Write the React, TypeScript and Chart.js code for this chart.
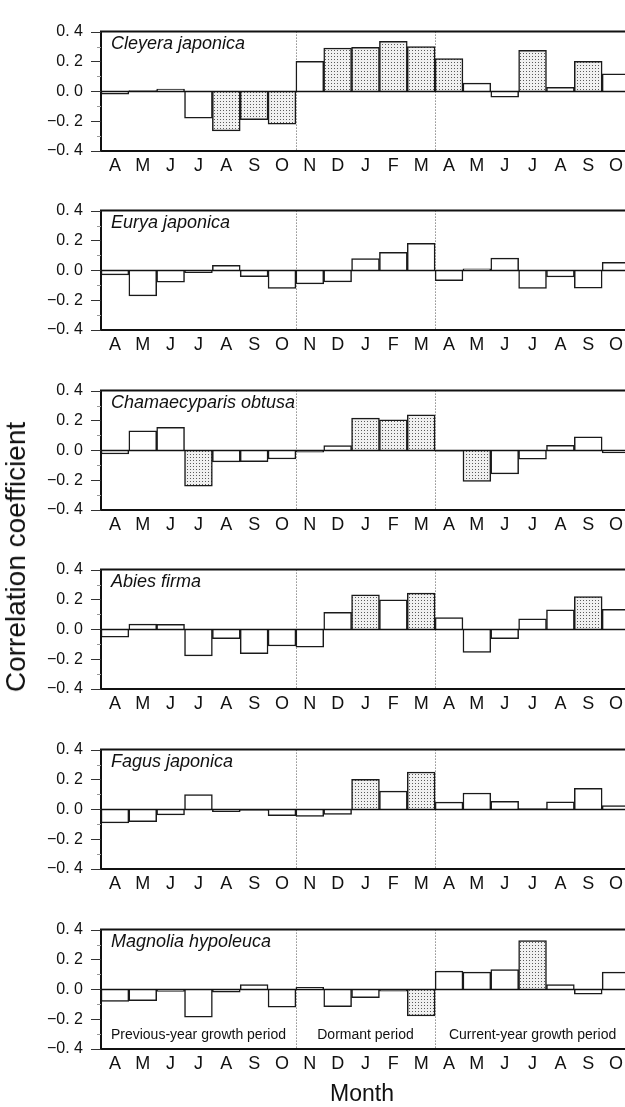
import React, { useEffect, useRef } from "react";
import { Chart, registerables } from "chart.js";

Chart.register(...registerables);

// ---------- data ----------
const months = ["A", "M", "J", "J", "A", "S", "O", "N", "D", "J", "F", "M", "A", "M", "J", "J", "A", "S", "O"];
const speciesNames = ["Cleyera japonica", "Eurya japonica", "Chamaecyparis obtusa", "Abies firma", "Fagus japonica", "Magnolia hypoleuca"];

const cleyeraValues = [-0.02, 0.005, 0.015, -0.18, -0.265, -0.19, -0.22, 0.2, 0.29, 0.295, 0.335, 0.3, 0.22, 0.055, -0.04, 0.275, 0.027, 0.2, 0.117];
const cleyeraSig = [4, 5, 6, 8, 9, 10, 11, 12, 15, 17];

const euryaValues = [-0.031, -0.171, -0.08, -0.016, 0.033, -0.043, -0.122, -0.091, -0.078, 0.078, 0.12, 0.18, -0.07, 0.01, 0.082, -0.122, -0.045, -0.12, 0.054];
const euryaSig: number[] = [];

const chamaecyparisValues = [-0.025, 0.13, 0.154, -0.24, -0.078, -0.076, -0.058, -0.012, 0.031, 0.216, 0.204, 0.237, -0.006, -0.208, -0.158, -0.06, 0.033, 0.091, -0.018];
const chamaecyparisSig = [3, 9, 10, 11, 13];

const abiesValues = [-0.052, 0.035, 0.033, -0.178, -0.062, -0.163, -0.112, -0.12, 0.114, 0.231, 0.198, 0.242, 0.078, -0.155, -0.062, 0.07, 0.13, 0.219, 0.134];
const abiesSig = [9, 11, 17];

const fagusValues = [-0.091, -0.083, -0.037, 0.099, -0.016, -0.008, -0.043, -0.047, -0.035, 0.2, 0.122, 0.25, 0.048, 0.109, 0.054, 0.004, 0.05, 0.141, 0.025];
const fagusSig = [9, 11];

const magnoliaValues = [-0.082, -0.076, -0.014, -0.186, -0.019, 0.031, -0.12, 0.014, -0.117, -0.056, -0.012, -0.179, 0.122, 0.115, 0.132, 0.326, 0.031, -0.033, 0.115];
const magnoliaSig = [11, 15];

const seriesValues = [cleyeraValues, euryaValues, chamaecyparisValues, abiesValues, fagusValues, magnoliaValues];
const seriesSig = [cleyeraSig, euryaSig, chamaecyparisSig, abiesSig, fagusSig, magnoliaSig];

const periodBoundaries = [7, 12]; // index where a new period starts
const periodLabels = ["Previous-year growth period", "Dormant period", "Current-year growth period"];
const periodLabelValue = -0.31;
const yMin = -0.4;
const yMax = 0.4;

// ---------- layout ----------
const FONT = "'Liberation Sans', Arial, Helvetica, sans-serif";
const panelTops = [14, 193, 373, 552, 732, 912];
const PAD_TOP = 10;
const PLOT_H = 137;
const CANVAS_W = 640;
const CANVAS_H = PAD_TOP + PLOT_H + 32;
const AXIS_LEFT = 101;
const RIGHT_PAD = 10;

function makePattern(): CanvasPattern | string {
  const c = document.createElement("canvas");
  c.width = 3;
  c.height = 3;
  const g = c.getContext("2d");
  if (!g) return "#ddd";
  g.fillStyle = "#f0f0f0";
  g.fillRect(0, 0, 3, 3);
  g.fillStyle = "#5a5a5a";
  g.fillRect(1, 1, 1, 1);
  return g.createPattern(c, "repeat") || "#ddd";
}

function fmtTick(v: number): string {
  const r = Math.round(v * 10);
  if (r % 2 !== 0) return "";
  if (r === 0) return "0. 0";
  return (r < 0 ? "\u22120. " : "0. ") + Math.abs(r);
}

const decorPlugin = {
  id: "decor",
  beforeDatasetsDraw(chart: any) {
    const { ctx, chartArea: a, scales } = chart;
    const x = scales.x;
    ctx.save();
    ctx.strokeStyle = "#555";
    ctx.lineWidth = 1;
    ctx.setLineDash([1, 2]);
    for (const b of periodBoundaries) {
      const xx = Math.round((x.getPixelForValue(b - 1) + x.getPixelForValue(b)) / 2) + 0.5;
      ctx.beginPath();
      ctx.moveTo(xx, a.top);
      ctx.lineTo(xx, a.bottom);
      ctx.stroke();
    }
    ctx.restore();
  },
  afterDatasetsDraw(chart: any, _args: any, opts: any) {
    const { ctx, chartArea: a, scales } = chart;
    const x = scales.x;
    const y = scales.y;
    ctx.save();
    // zero line
    const y0 = Math.round(y.getPixelForValue(0)) + 0.5;
    ctx.strokeStyle = "#111";
    ctx.lineWidth = 1.6;
    ctx.beginPath();
    ctx.moveTo(a.left, y0);
    ctx.lineTo(a.right, y0);
    ctx.stroke();
    // frame
    ctx.lineWidth = 2;
    ctx.beginPath();
    ctx.moveTo(a.right, a.top);
    ctx.lineTo(a.left, a.top);
    ctx.lineTo(a.left, a.bottom);
    ctx.lineTo(a.right, a.bottom);
    ctx.stroke();
    // ticks
    for (let k = -4; k <= 4; k++) {
      const yy = Math.round(y.getPixelForValue(k / 10)) + 0.5;
      const major = k % 2 === 0;
      ctx.strokeStyle = major ? "#333" : "#999";
      ctx.lineWidth = 1;
      ctx.beginPath();
      ctx.moveTo(a.left - (major ? 10 : 4), yy);
      ctx.lineTo(a.left, yy);
      ctx.stroke();
    }
    // species name
    ctx.fillStyle = "#111";
    ctx.font = `italic 18px ${FONT}`;
    ctx.textAlign = "left";
    ctx.textBaseline = "top";
    ctx.fillText(opts.name, a.left + 10, a.top + 3);
    // period labels
    if (opts.periods) {
      ctx.font = `14px ${FONT}`;
      ctx.textAlign = "center";
      ctx.textBaseline = "middle";
      const edges = [a.left];
      for (const b of periodBoundaries) edges.push((x.getPixelForValue(b - 1) + x.getPixelForValue(b)) / 2);
      edges.push(a.right);
      const yy = y.getPixelForValue(periodLabelValue);
      periodLabels.forEach((t, i) => {
        ctx.fillText(t, (edges[i] + edges[i + 1]) / 2, yy);
      });
    }
    ctx.restore();
  },
};

function Panel({ index }: { index: number }) {
  const ref = useRef<HTMLCanvasElement | null>(null);
  useEffect(() => {
    const canvas = ref.current;
    if (!canvas) return;
    const pattern = makePattern();
    const values = seriesValues[index];
    const sig = seriesSig[index];
    const chart = new Chart(canvas, {
      type: "bar",
      data: {
        labels: months,
        datasets: [
          {
            data: values,
            backgroundColor: values.map((_, i) => (sig.includes(i) ? pattern : "#ffffff")) as any,
            borderColor: "#1a1a1a",
            borderWidth: 1.5,
            barPercentage: 1,
            categoryPercentage: 1,
          },
        ],
      },
      options: {
        animation: false,
        responsive: false,
        devicePixelRatio: 1,
        layout: { padding: { top: PAD_TOP, right: RIGHT_PAD, left: 0, bottom: 0 } },
        plugins: {
          legend: { display: false },
          tooltip: { enabled: false },
          decor: { name: speciesNames[index], periods: index === 5 },
        } as any,
        scales: {
          x: {
            grid: { display: false, drawTicks: false },
            border: { display: false },
            ticks: {
              color: "#111",
              font: { family: FONT, size: 18 },
              padding: 4,
              maxRotation: 0,
              autoSkip: false,
            },
            afterFit: (s: any) => {
              s.height = CANVAS_H - PAD_TOP - PLOT_H;
            },
          },
          y: {
            min: yMin,
            max: yMax,
            grid: { display: false, drawTicks: false },
            border: { display: false },
            ticks: {
              stepSize: 0.1,
              color: "#111",
              font: { family: FONT, size: 16 },
              padding: 18,
              autoSkip: false,
              callback: (v: any) => fmtTick(Number(v)),
            },
            afterFit: (s: any) => {
              s.width = AXIS_LEFT;
            },
          },
        },
      },
      plugins: [decorPlugin],
    } as any);
    return () => chart.destroy();
  }, [index]);
  return (
    <canvas
      ref={ref}
      width={CANVAS_W}
      height={CANVAS_H}
      style={{ position: "absolute", left: 0, top: panelTops[index] - PAD_TOP, width: CANVAS_W, height: CANVAS_H }}
    />
  );
}

export default function App() {
  return (
    <div style={{ position: "absolute", left: 0, top: 0, width: 625, height: 1107, overflow: "hidden", background: "#fff" }}>
      {speciesNames.map((_, i) => (
        <Panel key={i} index={i} />
      ))}
      <div
        style={{
          position: "absolute",
          left: 16,
          top: 557,
          transform: "translate(-50%, -50%) rotate(-90deg)",
          whiteSpace: "nowrap",
          font: `28px ${FONT}`,
          color: "#111",
        }}
      >
        Correlation coefficient
      </div>
      <div
        style={{
          position: "absolute",
          left: 362,
          top: 1093,
          transform: "translate(-50%, -50%)",
          whiteSpace: "nowrap",
          font: `23px ${FONT}`,
          color: "#111",
        }}
      >
        Month
      </div>
    </div>
  );
}
